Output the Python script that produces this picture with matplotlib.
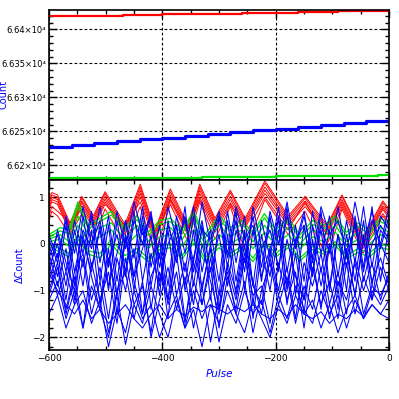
import matplotlib
matplotlib.use("Agg")
import matplotlib.pyplot as plt
from matplotlib.ticker import MultipleLocator, FuncFormatter

# ---- top panel: raw counts (stair-step traces) ----
TOP_RED_PULSE = [-600, -540, -470, -400, -330, -260, -160, -90, 0]
TOP_RED = [66419.5, 66420.5, 66421.5, 66422.5, 66423.5, 66424.5, 66425.5, 66427, 66428]
TOP_BLUE_PULSE = [-600, -560, -520, -480, -440, -400, -360, -320, -280, -240,
                  -200, -160, -120, -80, -40, 0]
TOP_BLUE = [66227, 66230, 66233, 66236, 66239, 66241, 66244, 66247, 66249, 66252,
            66254, 66257, 66259, 66262, 66265, 66268]
TOP_GREEN_PULSE = [-600, -450, -330, -200, -110, -20, 0]
TOP_GREEN = [66181, 66181.5, 66183, 66184, 66185, 66186, 66186]

# ---- bottom panel: residuals ----
RED_PULSE = [-600, -595, -585, -563, -542, -522, -501, -466, -439, -413, -386, -355,
             -334, -307, -280, -254, -219, -178, -148, -109, -83, -46, -11, 0]
RED_CURVES = [
    [1.00, 1.10, 1.05, 0.45, 1.02, 0.60, 1.12, 0.42, 1.28, 0.30, 1.18, 0.40, 1.28, 0.55, 1.15, 0.55, 1.35, 0.60, 1.02, 0.40, 1.05, 0.15, 0.92, 0.75],
    [0.90, 1.05, 1.00, 0.40, 0.98, 0.55, 1.08, 0.35, 1.22, 0.25, 1.12, 0.35, 1.22, 0.50, 1.10, 0.50, 1.30, 0.55, 0.98, 0.35, 1.02, 0.10, 0.88, 0.70],
    [0.85, 1.00, 0.95, 0.35, 0.92, 0.50, 1.02, 0.30, 1.15, 0.20, 1.05, 0.30, 1.15, 0.45, 1.02, 0.45, 1.22, 0.50, 0.92, 0.30, 0.95, 0.05, 0.82, 0.65],
    [0.80, 0.95, 0.90, 0.30, 0.88, 0.45, 0.96, 0.25, 1.08, 0.15, 0.98, 0.25, 1.08, 0.40, 0.95, 0.40, 1.15, 0.45, 0.86, 0.25, 0.90, 0.00, 0.78, 0.60],
    [0.75, 0.90, 0.85, 0.25, 0.82, 0.40, 0.90, 0.20, 1.00, 0.10, 0.92, 0.20, 1.00, 0.35, 0.88, 0.35, 1.08, 0.40, 0.80, 0.20, 0.85, -0.05, 0.74, 0.55],
    [0.60, 0.80, 0.70, 0.45, 0.75, 0.35, 0.85, 0.40, 0.90, 0.05, 0.95, 0.30, 0.95, 0.25, 0.85, 0.20, 1.00, 0.30, 0.90, 0.00, 0.80, -0.10, 0.65, 0.45],
    [0.50, 0.70, 0.60, 0.20, 0.65, 0.10, 0.75, 0.00, 0.80, -0.20, 0.85, 0.05, 0.90, 0.10, 0.80, -0.15, 0.95, 0.20, 0.70, -0.30, 0.75, -0.20, 0.60, 0.40],
]

GREEN_PULSE = [-600, -580, -565, -549, -530, -510, -490, -466, -445, -425, -405, -386,
               -365, -345, -325, -300, -280, -260, -240, -220, -200, -178, -157, -135,
               -115, -95, -75, -55, -35, -15, 0]
GREEN_CURVES = [
    [0.20, 0.35, 0.30, 0.90, 0.40, 0.55, 0.70, 0.35, 0.60, 0.25, 0.50, 0.55, 0.30, 0.70, 0.20, 0.60, 0.35, 0.50, 0.25, 0.65, 0.30, 0.55, 0.20, 0.50, 0.40, 0.60, 0.25, 0.45, 0.30, 0.55, 0.45],
    [0.15, 0.28, 0.22, 0.80, 0.32, 0.48, 0.62, 0.28, 0.52, 0.18, 0.42, 0.48, 0.22, 0.62, 0.12, 0.52, 0.28, 0.42, 0.18, 0.56, 0.22, 0.48, 0.12, 0.42, 0.32, 0.52, 0.18, 0.38, 0.22, 0.48, 0.38],
    [0.10, 0.20, 0.05, 0.60, 0.20, 0.35, 0.45, 0.10, 0.40, 0.05, 0.30, 0.35, 0.10, 0.45, 0.00, 0.40, 0.15, 0.30, 0.05, 0.40, 0.10, 0.35, 0.00, 0.30, 0.20, 0.40, 0.05, 0.25, 0.10, 0.35, 0.25],
    [0.05, 0.10, -0.05, 0.40, 0.05, 0.15, 0.30, -0.05, 0.20, -0.10, 0.15, 0.20, -0.05, 0.30, -0.10, 0.20, 0.00, 0.15, -0.10, 0.25, 0.00, 0.20, -0.10, 0.15, 0.05, 0.25, -0.05, 0.10, 0.00, 0.20, 0.10],
    [0.00, -0.10, -0.20, 0.20, -0.15, -0.20, 0.10, -0.25, -0.10, -0.30, -0.05, 0.00, -0.25, 0.10, -0.30, 0.00, -0.20, -0.05, -0.30, 0.05, -0.20, 0.00, -0.30, -0.05, -0.15, 0.05, -0.25, -0.10, -0.20, 0.00, -0.05],
    [-0.05, -0.18, -0.28, 0.10, -0.22, -0.30, 0.00, -0.35, -0.18, -0.38, -0.12, -0.08, -0.32, 0.02, -0.38, -0.08, -0.28, -0.12, -0.38, -0.02, -0.28, -0.08, -0.36, -0.12, -0.22, -0.02, -0.32, -0.18, -0.28, -0.08, -0.12],
]

BLUE_PULSE = list(range(-600, 1, 15))
BLUE_CURVES = [
    [-0.3, 0.2, -0.6, 0.5, -0.2, 0.7, -0.4, 0.6, -0.8, 0.5, -0.3, 0.8, -0.5, 0.4, -0.9, 0.6, -0.2, 0.8, -0.6, 0.3, -0.8, 0.7, -0.4, 0.6, -0.9, 0.5, -0.3, 0.8, -0.6, 0.4, -0.8, 0.7, -0.2, 0.6, -0.7, 0.5, -0.4, 0.8, -0.5, 0.6, 0.3],
    [-0.5, 0.0, -0.9, 0.3, -0.5, 0.6, -0.8, 0.4, -1.1, 0.2, -0.7, 0.6, -0.9, 0.1, -1.2, 0.4, -0.6, 0.6, -1.0, 0.0, -1.1, 0.5, -0.8, 0.3, -1.3, 0.2, -0.7, 0.6, -1.0, 0.1, -1.2, 0.4, -0.6, 0.3, -1.1, 0.2, -0.8, 0.5, -0.9, 0.3, 0.0],
    [0.0, -0.7, 0.4, -0.9, 0.6, -0.5, 0.3, -1.0, 0.5, -0.6, 0.7, -0.8, 0.2, -1.1, 0.5, -0.4, 0.8, -0.9, 0.4, -1.2, 0.6, -0.5, 0.7, -1.0, 0.3, -0.8, 0.6, -0.6, 0.8, -1.1, 0.4, -0.7, 0.7, -0.9, 0.2, -1.0, 0.6, -0.5, 0.8, -0.8, 0.4],
    [-0.8, -0.2, -1.2, 0.1, -0.9, 0.3, -1.3, -0.1, -1.5, 0.2, -1.0, 0.4, -1.4, -0.2, -1.6, 0.1, -0.9, 0.3, -1.3, -0.3, -1.4, 0.2, -1.1, 0.0, -1.6, -0.1, -1.0, 0.3, -1.3, -0.2, -1.5, 0.1, -0.9, 0.0, -1.4, -0.1, -1.1, 0.2, -1.2, 0.0, -0.4],
    [-1.0, -0.4, -1.4, -0.6, -0.2, -1.2, -0.5, -1.6, -0.3, -1.0, -0.1, -1.5, -0.7, -0.2, -1.3, -0.6, -1.7, -0.4, -0.9, -0.1, -1.4, -0.5, -1.2, -0.2, -0.8, -1.5, -0.3, -1.1, -0.5, -1.6, -0.4, -0.9, -0.2, -1.3, -0.6, -1.5, -0.3, -1.0, -0.4, -1.2, -0.6],
    [-1.2, -0.8, -1.6, -1.0, -1.8, -0.9, -1.4, -2.0, -1.1, -2.15, -1.3, -1.7, -0.9, -1.5, -2.0, -1.2, -1.8, -1.0, -1.6, -1.1, -2.1, -1.3, -1.7, -1.0, -1.5, -1.2, -1.9, -1.1, -1.6, -0.9, -1.4, -1.7, -1.0, -1.5, -1.1, -1.8, -1.2, -1.6, -1.0, -1.3, -0.9],
    [-0.6, -1.0, -1.3, -1.5, -1.2, -1.6, -1.4, -1.7, -1.5, -1.3, -1.6, -1.8, -1.5, -1.3, -1.6, -1.4, -1.55, -1.35, -1.45, -1.3, -1.4, -1.5, -1.35, -1.45, -1.3, -1.5, -1.6, -1.4, -1.55, -1.3, -1.5, -1.6, -1.45, -1.7, -1.5, -1.6, -1.4, -1.55, -1.3, -1.5, -1.6],
    [-0.4, -1.1, -0.6, -1.3, -0.3, -1.5, -0.8, -1.9, -1.0, -0.6, -1.6, -0.8, -2.0, -1.2, -0.5, -1.4, -0.7, -1.8, -0.9, -2.1, -1.1, -0.6, -1.5, -0.8, -1.9, -1.0, -0.4, -1.3, -0.7, -1.7, -0.9, -1.4, -0.5, -1.6, -0.8, -1.2, -0.4, -1.5, -0.9, -1.1, -0.7],
    [0.1, -0.4, 0.6, -0.2, 0.8, 0.0, 0.5, -0.5, 0.7, -0.1, 0.9, 0.2, 0.6, -0.3, 0.8, 0.1, 0.5, -0.4, 0.9, 0.0, 0.6, -0.2, 0.8, 0.1, 0.4, -0.5, 0.7, 0.0, 0.9, -0.1, 0.6, -0.3, 0.8, 0.2, 0.5, -0.2, 0.9, 0.0, 0.7, -0.1, 0.6],
    [-0.2, -0.9, -0.1, -1.2, 0.2, -0.7, -1.4, -0.3, -1.1, 0.1, -0.8, -1.5, -0.2, -0.9, 0.3, -1.1, -0.4, -1.3, 0.0, -0.8, -1.5, -0.4, -1.0, 0.2, -0.9, -1.3, -0.1, -1.0, 0.1, -0.7, -1.2, -0.3, -1.4, 0.0, -0.9, -0.2, -1.1, 0.1, -0.8, -0.3, -0.9],
    [-1.5, -1.1, -1.8, -1.3, -1.0, -1.7, -1.2, -2.2, -1.4, -1.9, -1.0, -1.6, -1.3, -2.0, -1.5, -1.1, -1.8, -1.4, -2.2, -1.3, -1.7, -1.0, -1.5, -1.9, -1.2, -1.6, -2.0, -1.3, -1.7, -1.1, -1.5, -1.2, -1.8, -1.3, -1.9, -1.4, -1.1, -1.6, -1.3, -1.5, -1.2],
    [-0.7, 0.3, -0.4, -1.0, 0.1, -0.6, 0.4, -0.9, -0.2, 0.5, -0.7, -0.1, 0.6, -0.8, 0.0, 0.4, -1.0, -0.3, 0.5, -0.6, 0.2, -0.9, 0.3, -0.4, 0.6, -0.7, -0.1, 0.5, -0.9, 0.1, 0.4, -0.6, 0.3, -1.0, 0.2, -0.5, 0.5, -0.8, 0.0, 0.4, 0.1],
    [-1.1, -0.5, -1.5, -0.7, -1.8, -0.4, -1.2, -0.6, -1.7, -0.3, -1.3, -0.9, -1.9, -0.6, -1.2, -0.2, -1.6, -0.8, -1.3, -0.5, -1.8, -0.7, -1.4, -0.3, -1.1, -0.9, -1.7, -0.4, -1.2, -0.6, -1.8, -0.5, -1.3, -0.8, -1.6, -0.4, -1.5, -0.7, -1.2, -0.5, -1.0],
    [0.2, -0.3, 0.5, -0.6, 0.3, -0.1, 0.8, -0.4, 0.2, -0.7, 0.5, 0.0, 0.7, -0.5, 0.4, -0.2, 0.6, -0.6, 0.3, 0.1, 0.7, -0.3, 0.5, -0.6, 0.8, -0.1, 0.3, -0.5, 0.6, 0.0, 0.7, -0.4, 0.4, -0.2, 0.8, -0.3, 0.4, -0.6, 0.5, 0.0, 0.8],
]

RED = "#ff0000"
GREEN = "#00e000"
BLUE = "#0000ff"


def style_axes(ax):
    ax.tick_params(which="both", direction="in", top=True, right=True,
                   labelsize=6.5, width=1.0, pad=3)
    ax.tick_params(which="major", length=6)
    ax.tick_params(which="minor", length=3)
    for sp in ax.spines.values():
        sp.set_linewidth(1.2)
    ax.grid(True, which="major", color="black", linestyle=(0, (2.5, 2)), linewidth=0.8)


def main() -> None:
    plt.rcParams["font.family"] = ["DejaVu Sans"]
    fig = plt.figure(figsize=(3.99, 3.99), dpi=100)
    ax_top = fig.add_axes([0.1228, 0.549, 0.8522, 0.426])
    ax_bot = fig.add_axes([0.1228, 0.1228, 0.8522, 0.4262], sharex=ax_top)

    # top panel
    ax_top.plot(TOP_RED_PULSE, TOP_RED, color=RED, lw=1.6, drawstyle="steps-post")
    ax_top.plot(TOP_BLUE_PULSE, TOP_BLUE, color=BLUE, lw=2.3, drawstyle="steps-post")
    ax_top.plot(TOP_GREEN_PULSE, TOP_GREEN, color=GREEN, lw=1.6, drawstyle="steps-post")
    ax_top.set_ylim(66178.7, 66428.7)
    ax_top.yaxis.set_major_locator(MultipleLocator(50))
    ax_top.yaxis.set_minor_locator(MultipleLocator(10))
    ax_top.yaxis.set_major_formatter(
        FuncFormatter(lambda v, p: "%g\u00d710\u2074" % (v / 1e4)))
    ax_top.set_ylabel("Count", color=BLUE, fontsize=7)
    ax_top.yaxis.set_label_coords(-0.118, 0.5)
    style_axes(ax_top)
    ax_top.tick_params(axis="y", labelsize=6, pad=2)
    ax_top.tick_params(labelbottom=False)

    # bottom panel
    for vals in RED_CURVES:
        ax_bot.plot(RED_PULSE, vals, color=RED, lw=0.7)
    for vals in GREEN_CURVES:
        ax_bot.plot(GREEN_PULSE, vals, color=GREEN, lw=0.95)
    for vals in BLUE_CURVES:
        ax_bot.plot(BLUE_PULSE, vals, color=BLUE, lw=0.75)
    ax_bot.axhline(0, color="black", lw=1.0, zorder=1.5)
    ax_bot.set_ylim(-2.27, 1.37)
    ax_bot.set_xlim(-600, 0)
    ax_bot.xaxis.set_major_locator(MultipleLocator(200))
    ax_bot.xaxis.set_minor_locator(MultipleLocator(50))
    ax_bot.yaxis.set_major_locator(MultipleLocator(1))
    ax_bot.yaxis.set_minor_locator(MultipleLocator(0.2))
    ax_bot.set_ylabel("\u0394Count", color=BLUE, fontsize=7)
    ax_bot.yaxis.set_label_coords(-0.072, 0.5)
    ax_bot.set_xlabel("Pulse", color=BLUE, fontsize=7.5, style="italic", labelpad=4)
    style_axes(ax_bot)

    fig.savefig("out.png", dpi=100)
    plt.close(fig)


if __name__ == "__main__":
    main()
